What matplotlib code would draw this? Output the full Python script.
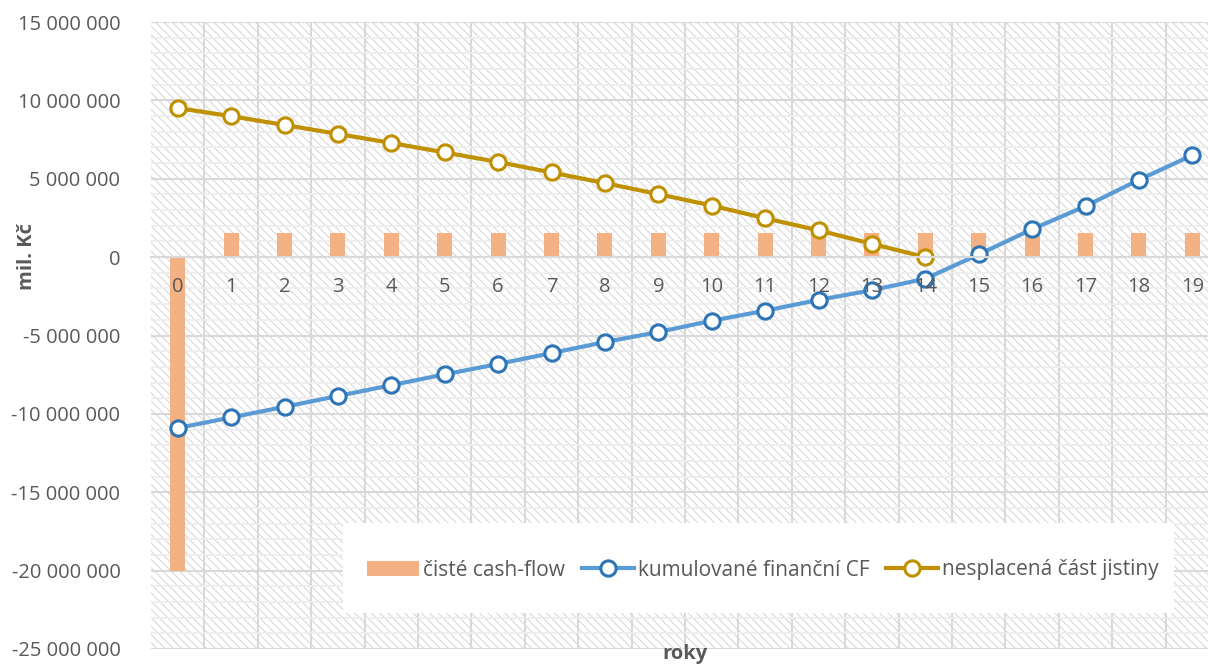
import matplotlib
matplotlib.use("Agg")
import matplotlib.pyplot as plt
from matplotlib.patches import Rectangle
from matplotlib.ticker import FuncFormatter, MultipleLocator

# years of the project
roky = list(range(20))

# net cash flow per year (CZK)
ciste_cf = [-20000000] + [1530000] * 19

# cumulative financing cash flow (CZK)
kumul_cf = [-10900000, -10230000, -9550000, -8860000, -8170000, -7480000,
            -6820000, -6120000, -5420000, -4780000, -4060000, -3420000,
            -2730000, -2110000, -1380000, 170000, 1780000, 3250000,
            4930000, 6500000]

# outstanding principal of the loan (CZK)
jistina = [9510000, 8990000, 8430000, 7860000, 7280000, 6680000, 6070000,
           5400000, 4720000, 4020000, 3290000, 2480000, 1710000, 850000, 0]

plt.rcParams['font.family'] = ['Open Sans', 'DejaVu Sans']
plt.rcParams['hatch.color'] = '#d9d9d9'
plt.rcParams['hatch.linewidth'] = 0.8

W, H = 1208, 665
fig = plt.figure(figsize=(W / 100, H / 100), dpi=100)
# plot area runs a little past the right edge of the canvas
left, right, top, bottom = 151, 1219, 22, 649
ax = fig.add_axes([left / W, 1 - bottom / H, (right - left) / W, (bottom - top) / H])

gray = '#595959'
grid = '#d9d9d9'
fs = 14.5

# hatched plot area
ax.add_patch(Rectangle((0, 0), 1, 1, transform=ax.transAxes, facecolor='white',
                       edgecolor=grid, linewidth=0, hatch='\\\\\\\\', zorder=0.1))

bars = ax.bar(roky, ciste_cf, width=0.28, color='#F4B183', zorder=1.5)
l1, = ax.plot(roky, kumul_cf, color='#5B9BD5', lw=3, marker='o', ms=11, mfc='white',
              mec='#2E75B6', mew=2.2, zorder=2)
l2, = ax.plot(roky[:len(jistina)], jistina, color='#BF9000', lw=3, marker='o', ms=11,
              mfc='white', mec='#BF9000', mew=2.2, zorder=2.1)

ax.set_xlim(-0.5, 19.5)
ax.set_ylim(-25000000, 15000000)
ax.yaxis.set_major_locator(MultipleLocator(5000000))
ax.yaxis.set_minor_locator(MultipleLocator(1000000))
ax.yaxis.set_major_formatter(FuncFormatter(lambda v, p: f"{v:,.0f}".replace(",", " ")))
ax.set_xticks(roky)
ax.set_xticklabels([])
ax.set_xticks([r + 0.5 for r in roky[:-1]], minor=True)

ax.set_axisbelow(True)
ax.grid(which='minor', axis='y', color='#eeeeee', lw=1.3, zorder=0.3)
ax.grid(which='major', axis='y', color=grid, lw=1.5, zorder=0.5)
ax.grid(which='minor', axis='x', color=grid, lw=1.5, zorder=0.5)

for s in ['top', 'right', 'left']:
    ax.spines[s].set_visible(False)
ax.spines['bottom'].set_position(('data', 0))
ax.spines['bottom'].set_color(grid)
ax.spines['bottom'].set_linewidth(1.5)

ax.tick_params(axis='y', which='both', length=0, pad=22, labelsize=fs, labelcolor=gray)
ax.tick_params(axis='x', which='both', length=0)

# category labels sit just under the zero line, on top of the series
for r in roky:
    ax.annotate(str(r), (r, 0), xytext=(0, -21.5), textcoords='offset points',
                ha='center', va='center', fontsize=fs, color=gray, zorder=3)

fig.text(27 / W, 1 - 257 / H, 'mil. Kč', rotation=90, ha='center', va='center',
         fontsize=fs, fontweight='bold', color=gray)
fig.text(685 / W, 1 / H, 'roky', ha='center', va='bottom',
         fontsize=fs, fontweight='bold', color=gray)

# legend box
lx0, lx1, ly0, ly1 = 343, 1174, 523, 613
fig.patches.append(Rectangle((lx0 / W, 1 - ly1 / H), (lx1 - lx0) / W, (ly1 - ly0) / H,
                             transform=fig.transFigure, facecolor='white',
                             edgecolor='none', zorder=3))
leg = fig.legend([bars, l1, l2],
                 ['čisté cash-flow', 'kumulované finanční CF', 'nesplacená část jistiny'],
                 loc='center', bbox_to_anchor=(763 / W, 1 - 570 / H),
                 ncol=3, frameon=False, fontsize=15, handlelength=2.5,
                 handletextpad=0.2, columnspacing=0.8, labelcolor=gray)
leg.set_zorder(4)

fig.savefig('out.png', dpi=100)
